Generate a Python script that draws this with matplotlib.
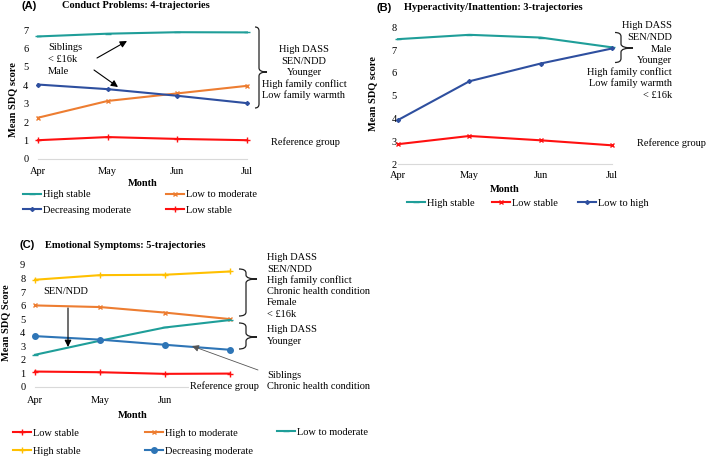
import numpy as np
import matplotlib
matplotlib.use('Agg')
import matplotlib.pyplot as plt
from matplotlib.path import Path
from matplotlib.patches import PathPatch, FancyArrowPatch

plt.rcParams['font.family'] = ['Liberation Serif', 'DejaVu Serif']
FS = 7.5

months = ['Apr', 'May', 'Jun', 'Jul']

# (A) Conduct problems
a_high_stable = [6.65, 6.80, 6.88, 6.87]
a_low_to_moderate = [2.24, 3.15, 3.56, 3.97]
a_decreasing = [4.04, 3.79, 3.43, 3.03]
a_low_stable = [1.02, 1.19, 1.09, 1.02]

# (B) Hyperactivity / inattention
b_high_stable = [7.48, 7.67, 7.55, 7.12]
b_low_stable = [2.87, 3.23, 3.04, 2.82]
b_low_to_high = [3.93, 5.63, 6.41, 7.07]

# (C) Emotional symptoms
c_low_stable = [1.12, 1.07, 0.95, 0.97]
c_high_to_moderate = [6.01, 5.89, 5.48, 5.00]
c_low_to_moderate = [2.36, 3.40, 4.38, 4.93]
c_high_stable = [7.91, 8.25, 8.28, 8.52]
c_decreasing = [3.74, 3.48, 3.10, 2.73]

TEAL = '#1f9e99'
BLUE = '#2e4f9f'
RED = '#ff1010'
ORANGE = '#ed7d31'
YELLOW = '#ffc000'
LBLUE = '#2e75b6'

W, H = 709, 458
fig = plt.figure(figsize=(W / 100, H / 100), dpi=100)


def fx(x):
    return x / W


def fy(y):
    return 1 - y / H


def make_axes(left, right, top, bottom):
    return fig.add_axes([fx(left), fy(bottom), (right - left) / W, (bottom - top) / H])


def style(ax, ylim, xpad, ypad, nx=4):
    ax.set_xlim(0, 3)
    ax.set_ylim(*ylim)
    ax.set_xticks(range(nx))
    ax.set_xticklabels(months[:nx])
    ax.set_yticks(range(ylim[0], ylim[1] + 1))
    for s in ['left', 'top', 'right']:
        ax.spines[s].set_visible(False)
    ax.spines['bottom'].set_color('#d9d9d9')
    ax.spines['bottom'].set_linewidth(0.8)
    ax.tick_params(axis='both', length=0, labelsize=FS)
    ax.tick_params(axis='x', pad=xpad)
    ax.tick_params(axis='y', pad=ypad)
    ax.patch.set_alpha(0)


def plot_series(ax, y, color, marker, ms=4):
    return ax.plot(range(len(y)), y, color=color, lw=1.5, marker=marker, ms=ms,
                   mew=1, clip_on=False, zorder=3)[0]


def legend_col(handles, labels, x, y, spacing=0.6):
    fig.legend(handles, labels, loc='center left', bbox_to_anchor=(fx(x), fy(y)),
               bbox_transform=fig.transFigure, frameon=False, fontsize=FS,
               handlelength=1.75, handletextpad=0.2, borderpad=0, borderaxespad=0,
               labelspacing=spacing, numpoints=1)


def brace(x0, xm, xt, top, tip, bottom, r=4):
    pts = [(x0, top), (xm, top), (xm, top + r),
           (xm, tip - r), (xm, tip), (xt, tip),
           (xm, tip), (xm, tip + r),
           (xm, bottom - r), (xm, bottom), (x0, bottom)]
    codes = [Path.MOVETO, Path.CURVE3, Path.CURVE3,
             Path.LINETO, Path.CURVE3, Path.CURVE3,
             Path.CURVE3, Path.CURVE3,
             Path.LINETO, Path.CURVE3, Path.CURVE3]
    verts = [(fx(px), fy(py)) for px, py in pts]
    fig.add_artist(PathPatch(Path(verts, codes), transform=fig.transFigure,
                             fill=False, lw=0.9, edgecolor='#222222'))


def text_lines(lines, x, y0, step, ha):
    for i, t in enumerate(lines):
        fig.text(fx(x), fy(y0 + i * step), t, ha=ha, va='center', fontsize=FS)


def arrow(x0, y0, x1, y1, color='black', lw=0.8):
    fig.add_artist(FancyArrowPatch(
        (fx(x0), fy(y0)), (fx(x1), fy(y1)), transform=fig.transFigure,
        arrowstyle='-|>,head_length=4,head_width=2', mutation_scale=1,
        color=color, lw=lw, shrinkA=0, shrinkB=0))


def title(tag, txt, xtag, xtxt, y):
    fig.text(fx(xtag), fy(y), tag, family='Liberation Sans', weight='bold',
             fontsize=8, ha='left', va='center')
    fig.text(fx(xtxt), fy(y), txt, weight='bold', fontsize=FS, ha='left', va='center')


# ---------------- (A)
axA = make_axes(38, 247, 30, 159)
style(axA, (0, 7), 5.5, 7)
hA1 = plot_series(axA, a_high_stable, TEAL, '_')
hA2 = plot_series(axA, a_low_to_moderate, ORANGE, 'x', 3.5)
hA3 = plot_series(axA, a_decreasing, BLUE, 'D', 2)
hA4 = plot_series(axA, a_low_stable, RED, '+')
title('(A)', 'Conduct Problems: 4-trajectories', 21, 62, 6)
fig.text(fx(13), fy(100), 'Mean SDQ score', rotation=90, weight='bold', fontsize=FS,
         ha='center', va='center')
fig.text(fx(143), fy(184), 'Month', weight='bold', fontsize=FS, ha='center', va='center')
legend_col([hA1, hA3], ['High stable', 'Decreasing moderate'], 23, 202.5)
legend_col([hA2, hA4], ['Low to moderate', 'Low stable'], 166, 202.5)
text_lines(['Siblings', '< £16k', 'Male'], 48, 48, 11.5, 'left')
arrow(97, 58, 127, 41)
arrow(94, 70, 118, 87)
brace(255, 259, 267, 27, 72, 108)
text_lines(['High DASS', 'SEN/NDD', 'Younger', 'High family conflict', 'Low family warmth'],
           304, 50, 11.3, 'center')
fig.text(fx(305), fy(142.5), 'Reference group', ha='center', va='center', fontsize=FS)

# ---------------- (B)
axB = make_axes(398, 612, 27.3, 164)
style(axB, (2, 8), 5, 1)
hB1 = plot_series(axB, b_high_stable, TEAL, '_')
hB2 = plot_series(axB, b_low_stable, RED, 'x', 3.5)
hB3 = plot_series(axB, b_low_to_high, BLUE, 'D', 2)
title('(B)', 'Hyperactivity/Inattention: 3-trajectories', 377, 404, 8)
fig.text(fx(373), fy(94), 'Mean SDQ score', rotation=90, weight='bold', fontsize=FS,
         ha='center', va='center')
fig.text(fx(505), fy(190), 'Month', weight='bold', fontsize=FS, ha='center', va='center')
legend_col([hB1], ['High stable'], 407, 203)
legend_col([hB2], ['Low stable'], 492, 203)
legend_col([hB3], ['Low to high'], 578, 203)
brace(615, 621, 633, 32.5, 48, 62.5)
text_lines(['High DASS', 'SEN/NDD', 'Male', 'Younger', 'High family conflict',
            'Low family warmth', '< £16k'], 672, 26, 11.5, 'right')
fig.text(fx(706), fy(142.7), 'Reference group', ha='right', va='center', fontsize=FS)

# ---------------- (C)
axC = make_axes(35, 230, 265, 386.7)
style(axC, (0, 9), 7, 7, nx=3)
hC1 = plot_series(axC, c_low_stable, RED, '+')
hC2 = plot_series(axC, c_high_to_moderate, ORANGE, 'x', 3.5)
hC3 = plot_series(axC, c_low_to_moderate, TEAL, '_')
hC4 = plot_series(axC, c_high_stable, YELLOW, '+')
hC5 = plot_series(axC, c_decreasing, LBLUE, 'o', 4)
title('(C)', 'Emotional Symptoms: 5-trajectories', 20, 45, 245)
fig.text(fx(6), fy(323), 'Mean SDQ Score', rotation=90, weight='bold', fontsize=FS,
         ha='center', va='center')
fig.text(fx(133), fy(415), 'Month', weight='bold', fontsize=FS, ha='center', va='center')
legend_col([hC1, hC4], ['Low stable', 'High stable'], 13, 442.3, 0.8)
legend_col([hC2, hC5], ['High to moderate', 'Decreasing moderate'], 145, 442.3, 0.8)
legend_col([hC3], ['Low to moderate'], 277, 432.3)
fig.text(fx(43), fy(292), 'SEN/NDD', ha='left', va='center', fontsize=FS)
arrow(68, 308, 68, 347)
fig.text(fx(190), fy(386), 'Reference group', ha='left', va='center', fontsize=FS,
         bbox=dict(facecolor='white', edgecolor='none', pad=1))
arrow(258, 370, 192, 346, color='#555555', lw=0.6)
brace(239, 246, 257, 269, 279, 316)
brace(239, 246, 257, 323, 337, 349)
text_lines(['High DASS', 'SEN/NDD', 'High family conflict', 'Chronic health condition',
            'Female', '< £16k'], 267, 257.7, 11.3, 'left')
text_lines(['High DASS', 'Younger'], 267, 330, 11.7, 'left')
text_lines(['Siblings', 'Chronic health condition'], 267, 375, 11.3, 'left')

fig.savefig('out.png', dpi=100)
